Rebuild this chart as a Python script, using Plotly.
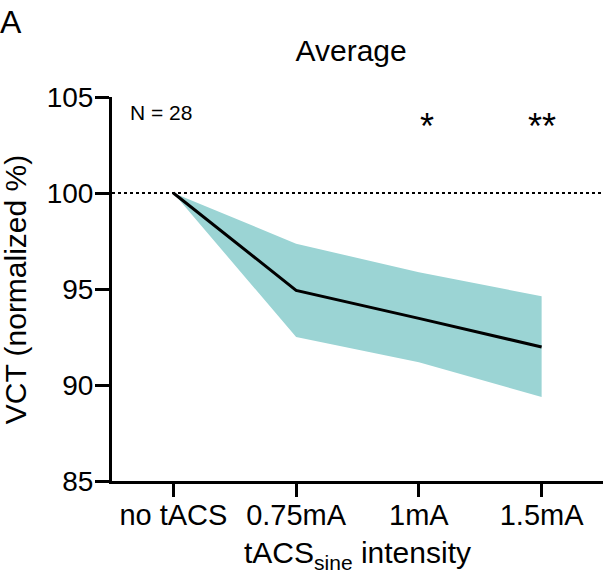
import plotly.graph_objects as go

categories = ["no tACS", "0.75mA", "1mA", "1.5mA"]
mean_vct = [100, 94.93, 93.47, 91.98]
upper_ci = [100, 97.36, 95.87, 94.62]
lower_ci = [100, 92.50, 91.18, 89.38]
baseline = 100
y_ticks = [85, 90, 95, 100, 105]
sig_labels = ["", "", "*", "**"]
n_label = "N = 28"

FONT = "Liberation Sans, Arial, Helvetica, sans-serif"
BAND = "#9bd4d4"

fig = go.Figure()
fig.add_trace(go.Scatter(x=categories, y=lower_ci, mode="lines",
                         line=dict(width=0, color=BAND), showlegend=False, hoverinfo="skip"))
fig.add_trace(go.Scatter(x=categories, y=upper_ci, mode="lines", fill="tonexty",
                         fillcolor=BAND, line=dict(width=0, color=BAND),
                         showlegend=False, hoverinfo="skip"))
fig.add_trace(go.Scatter(x=categories, y=mean_vct, mode="lines",
                         line=dict(width=3, color="black"), showlegend=False))

fig.add_hline(y=baseline, line=dict(color="black", width=2.2, dash="dot"), layer="below")

for cat, lab in zip(categories, sig_labels):
    if lab:
        fig.add_annotation(x=cat, y=103.45, text=lab, showarrow=False,
                           xshift=8 if lab == "*" else 0,
                           font=dict(family=FONT, size=36, color="black"),
                           xanchor="center", yanchor="middle")

fig.add_annotation(x=0.033, y=0.96, xref="paper", yref="paper", text=n_label,
                   showarrow=False, xanchor="left", yanchor="middle",
                   font=dict(family=FONT, size=21, color="black"))

fig.add_annotation(x=-0.233, y=1.195, xref="paper", yref="paper", text="A",
                   showarrow=False, xanchor="left", yanchor="middle",
                   font=dict(family=FONT, size=32, color="black"))

# y-axis title placed as a rotated annotation for precise position
fig.add_annotation(x=-0.197, y=0.5, xref="paper", yref="paper",
                   text="VCT (normalized %)", textangle=-90, showarrow=False,
                   xanchor="center", yanchor="middle",
                   font=dict(family=FONT, size=30, color="black"))

fig.update_layout(
    width=603, height=586,
    margin=dict(l=112, r=0, t=97, b=105),
    paper_bgcolor="white", plot_bgcolor="white",
    font=dict(family=FONT, color="black"),
    title=dict(text="Average", x=0.487, xref="paper", xanchor="center",
               y=1 - 50 / 586, yref="container", yanchor="middle",
               font=dict(family=FONT, size=30, color="black")),
)
fig.update_xaxes(
    type="category", range=[-0.5, 3.5],
    showline=True, linewidth=3, linecolor="black", mirror=False,
    ticks="outside", ticklen=13, tickwidth=3, tickcolor="black",
    showgrid=False, zeroline=False,
    tickfont=dict(family=FONT, size=29, color="black"),
    ticklabelstandoff=-7,
    title=dict(text="tACS<sub>sine</sub> intensity", standoff=13,
               font=dict(family=FONT, size=30, color="black")),
)
fig.update_yaxes(
    range=[85, 105], tickvals=y_ticks,
    showline=True, linewidth=3, linecolor="black",
    ticks="outside", ticklen=14, tickwidth=3, tickcolor="black",
    showgrid=False, zeroline=False,
    tickfont=dict(family=FONT, size=28, color="black"),
    ticklabelstandoff=-4,
)

fig.write_html("out.html")
